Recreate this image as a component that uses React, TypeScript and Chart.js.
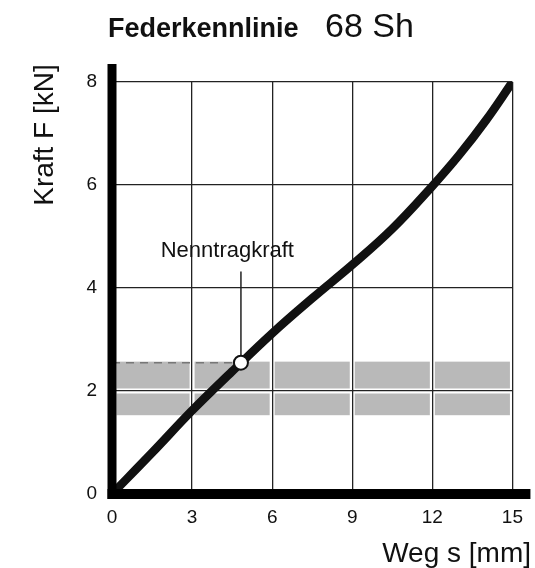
import { useEffect, useRef } from "react";
import { Chart, registerables } from "chart.js";

Chart.register(...registerables);

// Spring characteristic: Weg s [mm] -> Kraft F [kN]
const wegS = [0, 1.5, 3, 4.5, 6, 7.5, 9, 10.5, 12, 13, 14, 15];
const kraftF = [0, 0.8, 1.62, 2.38, 3.12, 3.8, 4.45, 5.15, 5.98, 6.58, 7.25, 8.0];

const xTicks = [0, 3, 6, 9, 12, 15];
const yTicks = [0, 2, 4, 6, 8];

// Nenntragkraft (rated load) point
const ratedS = 4.83;
const ratedF = 2.55;
const leaderTopF = 4.32;
const labelS = 4.32;
const labelF = 4.71;
const labelText = "Nenntragkraft";

// shaded load band
const bandLow = 1.53;
const bandMid = 2;
const bandHigh = 2.57;

const titleBold = "Federkennlinie";
const titleRegular = "68 Sh";
const xTitle = "Weg s [mm]";
const yTitle = "Kraft F [kN]";

const FONT = '"Liberation Sans", Arial, Helvetica, sans-serif';

const decorPlugin = {
  id: "decor",
  beforeDraw(chart: any) {
    const { ctx, scales } = chart;
    const xs = scales.x;
    const ys = scales.y;
    ctx.save();
    ctx.fillStyle = "#b9b9b9";
    const gap = 2.5;
    const yCells = [
      [bandLow, bandMid],
      [bandMid, bandHigh],
    ];
    for (let i = 0; i < xTicks.length - 1; i++) {
      const x0 = xs.getPixelForValue(xTicks[i]) + (i === 0 ? 4.5 : gap);
      const x1 = xs.getPixelForValue(xTicks[i + 1]) - gap;
      yCells.forEach(([lo, hi], j) => {
        const yTop = ys.getPixelForValue(hi) + (j === 0 ? gap : 0);
        const yBot = ys.getPixelForValue(lo) - (j === 1 ? gap : 0);
        ctx.fillRect(x0, yTop, x1 - x0, yBot - yTop);
      });
    }
    ctx.restore();
  },
  afterDraw(chart: any) {
    const { ctx, scales, chartArea } = chart;
    const xs = scales.x;
    const ys = scales.y;
    ctx.save();
    // thick axes
    ctx.fillStyle = "#000";
    const left = xs.getPixelForValue(0);
    const bottom = ys.getPixelForValue(0);
    ctx.fillRect(left - 4.5, chartArea.top - 18, 9, bottom - chartArea.top + 23);
    ctx.fillRect(left - 4.5, bottom - 5, chartArea.right + 18 - left + 4.5, 10);

    // label
    ctx.fillStyle = "#111";
    ctx.font = `22px ${FONT}`;
    ctx.textAlign = "center";
    ctx.textBaseline = "middle";
    ctx.fillText(labelText, xs.getPixelForValue(labelS), ys.getPixelForValue(labelF));

    // title
    ctx.textAlign = "left";
    ctx.textBaseline = "alphabetic";
    ctx.font = `bold 27px ${FONT}`;
    ctx.fillText(titleBold, 108, 37);
    ctx.font = `34px ${FONT}`;
    ctx.fillText(titleRegular, 325, 37);

    // axis titles
    ctx.font = `28px ${FONT}`;
    ctx.textAlign = "right";
    ctx.fillText(xTitle, 531, 562);
    ctx.save();
    ctx.translate(45, 135);
    ctx.rotate(-Math.PI / 2);
    ctx.textAlign = "center";
    ctx.textBaseline = "middle";
    ctx.fillText(yTitle, 0, 0);
    ctx.restore();
    ctx.restore();
  },
};

export default function App() {
  const canvasRef = useRef<HTMLCanvasElement | null>(null);

  useEffect(() => {
    if (!canvasRef.current) return;
    const chart = new Chart(canvasRef.current, {
      type: "line",
      data: {
        datasets: [
          {
            type: "scatter",
            data: [{ x: ratedS, y: ratedF }],
            pointRadius: 7,
            pointBackgroundColor: "#fff",
            pointBorderColor: "#111",
            pointBorderWidth: 2,
            showLine: false,
          } as any,
          {
            data: [
              { x: ratedS, y: ratedF + 0.14 },
              { x: ratedS, y: leaderTopF },
            ],
            borderColor: "#222",
            borderWidth: 1.5,
            pointRadius: 0,
          },
          {
            data: [
              { x: 0, y: ratedF },
              { x: ratedS - 0.25, y: ratedF },
            ],
            borderColor: "#777",
            borderWidth: 1.5,
            borderDash: [8, 6],
            pointRadius: 0,
          },
          {
            data: wegS.map((s, i) => ({ x: s, y: kraftF[i] })),
            borderColor: "#111",
            borderWidth: 8.5,
            borderCapStyle: "round",
            tension: 0.4,
            pointRadius: 0,
          },
        ],
      },
      options: {
        animation: false,
        responsive: true,
        maintainAspectRatio: false,
        layout: { padding: { top: 82, right: 20, left: 0, bottom: 0 } },
        plugins: {
          legend: { display: false },
          tooltip: { enabled: false },
          title: { display: false },
        },
        scales: {
          x: {
            type: "linear",
            min: 0,
            max: 15,
            afterBuildTicks: (s: any) => {
              s.ticks = xTicks.map((v) => ({ value: v }));
            },
            afterFit: (s: any) => {
              s.height = 74;
            },
            grid: { color: "#222", lineWidth: 1.3, drawTicks: false },
            border: { display: false },
            ticks: {
              padding: 12,
              color: "#111",
              font: { family: FONT, size: 19 },
              maxRotation: 0,
            },
          },
          y: {
            type: "linear",
            min: 0,
            max: 8,
            afterBuildTicks: (s: any) => {
              s.ticks = yTicks.map((v) => ({ value: v }));
            },
            afterFit: (s: any) => {
              s.width = 112;
            },
            grid: { color: "#222", lineWidth: 1.3, drawTicks: false },
            border: { display: false },
            ticks: {
              padding: 15,
              color: "#111",
              font: { family: FONT, size: 19 },
            },
          },
        },
      },
      plugins: [decorPlugin],
    });
    return () => chart.destroy();
  }, []);

  return (
    <div style={{ position: "fixed", left: 0, top: 0, width: 535, height: 568, background: "#fff" }}>
      <canvas ref={canvasRef} />
    </div>
  );
}
